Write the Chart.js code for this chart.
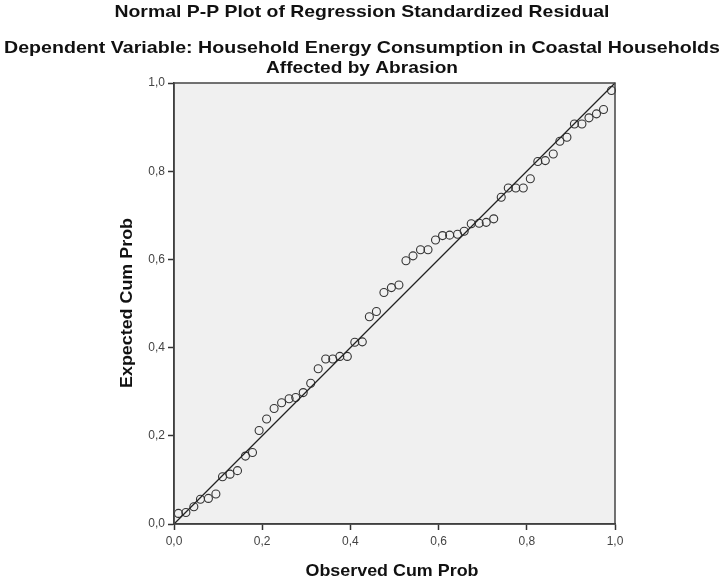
<!DOCTYPE html>
<html>
<head>
<meta charset="utf-8">
<script src="https://cdn.jsdelivr.net/npm/chart.js@4"></script>
<style>
  html, body { margin: 0; padding: 0; background: #fff; }
  #wrap { width: 725px; height: 582px; }
</style>
</head>
<body>
<div id="wrap"><canvas id="ppChart" width="725" height="582"></canvas></div>
<script>
// Observed vs expected cumulative probabilities
const observedCumProb = [
  0.010, 0.027, 0.045, 0.060, 0.078, 0.095, 0.110, 0.127, 0.144, 0.162,
  0.178, 0.193, 0.210, 0.227, 0.244, 0.261, 0.276, 0.293, 0.310, 0.327,
  0.344, 0.360, 0.376, 0.393, 0.410, 0.427, 0.443, 0.459, 0.476, 0.493,
  0.510, 0.526, 0.542, 0.559, 0.576, 0.593, 0.609, 0.625, 0.643, 0.658,
  0.674, 0.692, 0.708, 0.725, 0.742, 0.758, 0.775, 0.792, 0.808, 0.825,
  0.842, 0.860, 0.875, 0.891, 0.908, 0.925, 0.941, 0.958, 0.974, 0.992
];
const expectedCumProb = [
  0.024, 0.026, 0.039, 0.056, 0.058, 0.068, 0.107, 0.113, 0.121, 0.154,
  0.162, 0.212, 0.238, 0.262, 0.275, 0.284, 0.287, 0.298, 0.319, 0.352,
  0.374, 0.374, 0.380, 0.380, 0.412, 0.413, 0.470, 0.482, 0.525, 0.536,
  0.542, 0.597, 0.608, 0.622, 0.622, 0.644, 0.654, 0.655, 0.657, 0.664,
  0.681, 0.682, 0.684, 0.692, 0.741, 0.762, 0.762, 0.762, 0.783, 0.822,
  0.824, 0.839, 0.868, 0.877, 0.907, 0.907, 0.921, 0.930, 0.940, 0.983
];
// Reference diagonal
const diagonalX = [0, 1];
const diagonalY = [0, 1];
const tickValues = [0, 0.2, 0.4, 0.6, 0.8, 1.0];

const titleText = 'Normal P-P Plot of Regression Standardized Residual';
const subtitleLines = [
  'Dependent Variable: Household Energy Consumption in Coastal Households',
  'Affected by Abrasion'
];
const xTitle = 'Observed Cum Prob';
const yTitle = 'Expected Cum Prob';

const FONT = "'Liberation Sans', Arial, sans-serif";
const fmt = v => v.toFixed(1).replace('.', ',');

// the SPSS export is a bit wider than the font, so stretch text to a width
function wideText(ctx, text, x, y, width, angle) {
  ctx.save();
  ctx.translate(x, y);
  if (angle) ctx.rotate(angle);
  const w = ctx.measureText(text).width;
  ctx.scale(width / w, 1);
  ctx.fillText(text, 0, 0);
  ctx.restore();
}

// background, frame and text drawn around the chart area
const spssFrame = {
  id: 'spssFrame',
  beforeDraw(chart) {
    const { ctx, chartArea: a } = chart;
    ctx.save();
    ctx.fillStyle = '#f0f0f0';
    ctx.fillRect(a.left, a.top, a.right - a.left, a.bottom - a.top);
    ctx.restore();
  },
  afterDraw(chart) {
    const { ctx, chartArea: a } = chart;
    ctx.save();
    ctx.strokeStyle = '#444';
    ctx.lineWidth = 1.5;
    ctx.strokeRect(a.left, a.top, a.right - a.left, a.bottom - a.top);

    ctx.fillStyle = '#111';
    ctx.textAlign = 'center';
    ctx.textBaseline = 'alphabetic';
    ctx.font = 'bold 17px ' + FONT;
    wideText(ctx, titleText, 362, 17, 495);
    wideText(ctx, subtitleLines[0], 362, 53, 716);
    wideText(ctx, subtitleLines[1], 362, 73, 192);

    ctx.font = 'bold 16.5px ' + FONT;
    ctx.textBaseline = 'middle';
    wideText(ctx, xTitle, 392, 571, 173);
    wideText(ctx, yTitle, 127, 303, 170, -Math.PI / 2);
    ctx.restore();
  }
};

const axisCommon = {
  type: 'linear',
  min: 0,
  max: 1,
  afterBuildTicks: scale => { scale.ticks = tickValues.map(v => ({ value: v })); },
  grid: {
    drawOnChartArea: false,
    drawTicks: true,
    tickLength: 6,
    tickWidth: 1.5,
    color: '#333'
  },
  border: { display: true, color: '#333', width: 1.5 },
  ticks: {
    color: '#444',
    font: { family: FONT, size: 12 },
    callback: v => fmt(v)
  }
};

new Chart(document.getElementById('ppChart'), {
  type: 'scatter',
  data: {
    datasets: [
      {
        type: 'line',
        data: diagonalX.map((x, i) => ({ x, y: diagonalY[i] })),
        borderColor: '#222',
        borderWidth: 1.2,
        pointRadius: 0,
        fill: false,
        order: 0
      },
      {
        data: observedCumProb.map((x, i) => ({ x, y: expectedCumProb[i] })),
        pointRadius: 4,
        pointBorderWidth: 1.1,
        pointBorderColor: '#333',
        pointBackgroundColor: 'rgba(0,0,0,0)',
        order: 1
      }
    ]
  },
  options: {
    responsive: false,
    animation: false,
    clip: false,
    layout: { padding: { top: 83, right: 110, bottom: 0, left: 0 } },
    plugins: {
      legend: { display: false },
      tooltip: { enabled: false },
      title: { display: false }
    },
    scales: {
      x: {
        ...axisCommon,
        position: 'bottom',
        ticks: { ...axisCommon.ticks, padding: 4 },
        afterFit: scale => { scale.height = 58; }
      },
      y: {
        ...axisCommon,
        position: 'left',
        ticks: { ...axisCommon.ticks, padding: 3 },
        afterFit: scale => { scale.width = 174; }
      }
    }
  },
  plugins: [spssFrame]
});
</script>
</body>
</html>
